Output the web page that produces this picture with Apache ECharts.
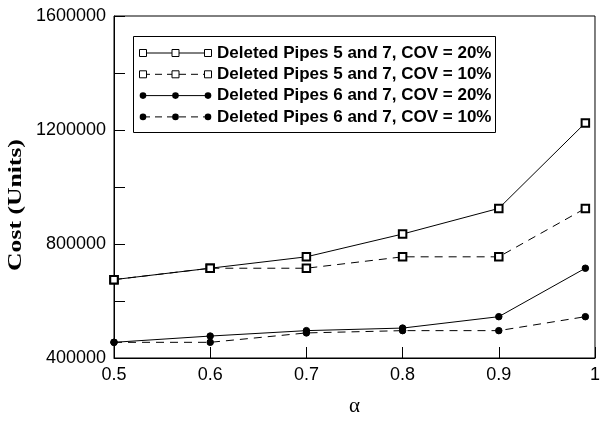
<!DOCTYPE html>
<html>
<head>
<meta charset="utf-8">
<script src="https://cdn.jsdelivr.net/npm/echarts@6/dist/echarts.min.js"></script>
<style>
  html, body { margin: 0; padding: 0; background: #fff; }
  #chart { width: 603px; height: 422px; }
</style>
</head>
<body>
<div id="chart"></div>
<script>
// alpha values on the x axis
var alpha = [0.5, 0.6, 0.7, 0.8, 0.9, 0.99];
// cost values
var pipes57cov20 = [675000, 715000, 755000, 835000, 925000, 1225000];
var pipes57cov10 = [675000, 715000, 715000, 755000, 755000, 925000];
var pipes67cov20 = [455000, 477000, 496000, 505000, 545000, 715000];
var pipes67cov10 = [455000, 455000, 488000, 496000, 496000, 545000];
var seriesNames = [
    'Deleted Pipes 5 and 7, COV = 20%',
    'Deleted Pipes 5 and 7, COV = 10%',
    'Deleted Pipes 6 and 7, COV = 20%',
    'Deleted Pipes 6 and 7, COV = 10%'
];
var seriesValues = [pipes57cov20, pipes57cov10, pipes67cov20, pipes67cov10];
var yTicks = [400000, 800000, 1200000, 1600000];

(function () {
    var myChart = echarts.init(document.getElementById('chart'));

    var symbols = ['emptyRect', 'emptyRect', 'circle', 'circle'];
    var sizes = [7.5, 7.5, 6.5, 6.5];
    var dashed = [false, true, false, true];

    var pairs = function (vals) {
        var res = [];
        for (var i = 0; i < alpha.length; i++) {
            res.push([alpha[i], vals[i]]);
        }
        return res;
    };

    var series = [];
    for (var s = 0; s < seriesValues.length; s++) {
        series.push({
            name: seriesNames[s],
            type: 'line',
            data: pairs(seriesValues[s]),
            symbol: symbols[s],
            symbolSize: sizes[s],
            showSymbol: true,
            animation: false,
            lineStyle: {color: '#000', width: 1, type: dashed[s] ? [8, 6] : 'solid'},
            itemStyle: {color: '#000', borderColor: '#000', borderWidth: 1}
        });
    }

    // hand-drawn legend box: line with three markers per row, like the original
    var legend = [{
        type: 'rect',
        shape: {x: 133.5, y: 36.5, width: 362, height: 96},
        style: {fill: '#fff', stroke: '#000', lineWidth: 1},
        z: 10
    }];
    for (var k = 0; k < seriesNames.length; k++) {
        var cy = 53 + k * 21.3;
        legend.push({
            type: 'line',
            shape: {x1: 143, y1: cy, x2: 208, y2: cy},
            style: {stroke: '#000', lineWidth: 1, lineDash: dashed[k] ? [7, 5] : null},
            z: 11
        });
        var mx = [143, 175.5, 208];
        for (var m = 0; m < 3; m++) {
            if (k < 2) {
                legend.push({
                    type: 'rect',
                    shape: {x: mx[m] - 3.5, y: cy - 3.5, width: 7, height: 7},
                    style: {fill: '#fff', stroke: '#000', lineWidth: 1},
                    z: 12
                });
            } else {
                legend.push({
                    type: 'circle',
                    shape: {cx: mx[m], cy: cy, r: 3.3},
                    style: {fill: '#000'},
                    z: 12
                });
            }
        }
        legend.push({
            type: 'text',
            x: 217, y: cy,
            style: {
                text: seriesNames[k],
                font: 'bold 17px "Liberation Sans", Arial, sans-serif',
                fill: '#000',
                verticalAlign: 'middle'
            },
            z: 12
        });
    }
    legend.push({
        type: 'text',
        x: 16, y: 205,
        rotation: Math.PI / 2,
        scaleX: 1.35,
        style: {
            text: 'Cost (Units)',
            font: 'bold 19px "Liberation Serif", "Times New Roman", serif',
            fill: '#000',
            align: 'center',
            verticalAlign: 'middle'
        }
    });

    var option = {
        backgroundColor: '#fff',
        animation: false,
        grid: {
            left: 114, right: 2, top: 16, bottom: 59,
            show: true, borderColor: '#000', borderWidth: 1
        },
        xAxis: {
            type: 'value',
            min: 0.5, max: 1, interval: 0.1,
            name: 'α',
            nameLocation: 'middle',
            nameGap: 38,
            nameTextStyle: {fontSize: 21, color: '#000', fontFamily: 'Liberation Serif'},
            axisLine: {lineStyle: {color: '#000', width: 1}},
            axisTick: {inside: true, length: 11, lineStyle: {color: '#000'}},
            axisLabel: {
                color: '#000', fontSize: 18, margin: 8,
                fontFamily: 'Liberation Sans',
                formatter: function (v) {
                    return Math.abs(v - 1) < 1e-9 ? '1' : v.toFixed(1);
                }
            },
            splitLine: {show: false}
        },
        yAxis: {
            type: 'value',
            min: 400000, max: 1600000, interval: 200000,
            axisLine: {lineStyle: {color: '#000', width: 1}},
            axisTick: {inside: true, length: 11, lineStyle: {color: '#000'}},
            axisLabel: {
                color: '#000', fontSize: 18, margin: 8,
                fontFamily: 'Liberation Sans',
                formatter: function (v) {
                    return yTicks.indexOf(v) >= 0 ? String(v) : '';
                }
            },
            splitLine: {show: false}
        },
        graphic: legend,
        series: series
    };

    myChart.setOption(option);
    window.addEventListener("resize", function () {
        myChart.resize();
    });
})();
</script>
</body>
</html>
